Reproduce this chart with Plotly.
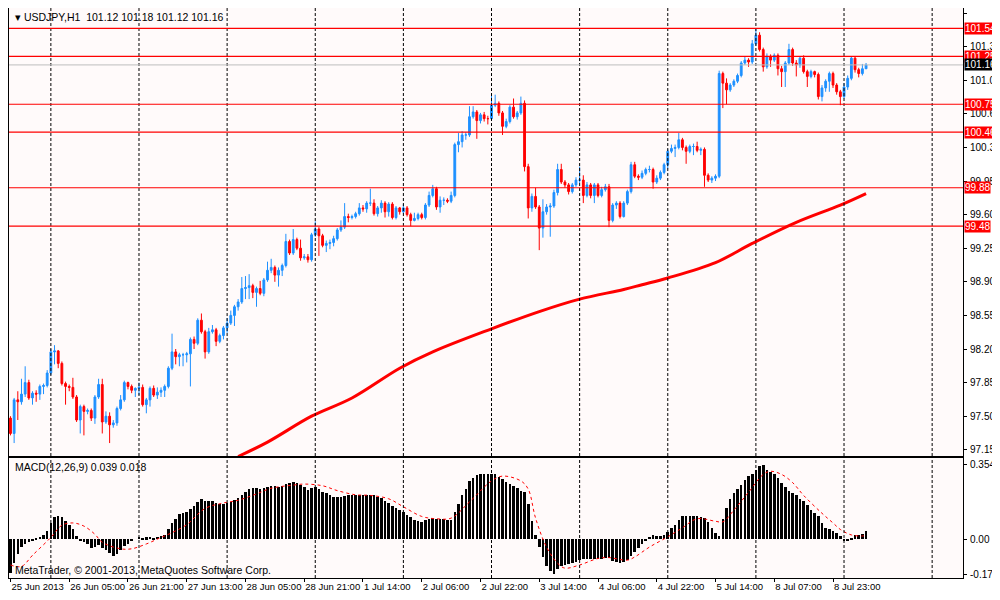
import plotly.graph_objects as go
from plotly.subplots import make_subplots

# USDJPY H1, 234 hourly bars (index 0 = 25 Jun 2013 13:00)
first_open = 97.48
closes = [
    97.32, 97.67, 97.65, 97.73, 97.85, 97.69, 97.74, 97.73, 97.81, 97.82,
    97.95, 98.17, 98.18, 98.05, 97.84, 97.81, 97.80, 97.70, 97.46, 97.60,
    97.55, 97.56, 97.48, 97.70, 97.83, 97.44, 97.50, 97.41, 97.43, 97.58,
    97.67, 97.85, 97.81, 97.77, 97.79, 97.80, 97.62, 97.67, 97.79, 97.72,
    97.75, 97.77, 97.81, 98.00, 98.17, 98.12, 98.14, 98.14, 98.15, 98.30,
    98.26, 98.50, 98.38, 98.17, 98.38, 98.40, 98.28, 98.34, 98.42, 98.47,
    98.55, 98.64, 98.69, 98.83, 98.84, 98.86, 98.79, 98.83, 98.78, 98.92,
    99.02, 99.05, 98.97, 99.02, 99.07, 99.32, 99.20, 99.34, 99.25, 99.15,
    99.16, 99.13, 99.39, 99.45, 99.38, 99.28, 99.30, 99.31, 99.35, 99.44,
    99.47, 99.58, 99.57, 99.58, 99.61, 99.67, 99.66, 99.72, 99.72, 99.61,
    99.67, 99.72, 99.63, 99.71, 99.57, 99.67, 99.63, 99.67, 99.60, 99.54,
    99.56, 99.60, 99.57, 99.70, 99.80, 99.87, 99.68, 99.75, 99.75, 99.74,
    99.80, 100.33, 100.36, 100.43, 100.43, 100.62, 100.67, 100.58, 100.64, 100.60,
    100.60, 100.74, 100.76, 100.66, 100.52, 100.57, 100.72, 100.62, 100.66, 100.76,
    100.10, 99.67, 99.79, 99.68, 99.46, 99.63, 99.68, 99.69, 99.83, 100.07,
    99.94, 99.91, 99.84, 99.91, 99.96, 99.96, 99.80, 99.91, 99.80, 99.91,
    99.80, 99.86, 99.89, 99.54, 99.70, 99.72, 99.58, 99.72, 99.84, 100.12,
    100.00, 99.99, 100.03, 100.07, 100.07, 99.94, 99.98, 100.04, 100.12, 100.26,
    100.29, 100.30, 100.38, 100.30, 100.26, 100.31, 100.31, 100.27, 100.28, 100.01,
    99.96, 99.98, 100.00, 101.07, 100.97, 100.90, 100.95, 100.99, 101.05, 101.18,
    101.21, 101.19, 101.38, 101.47, 101.32, 101.14, 101.25, 101.21, 101.26, 101.12,
    101.09, 101.18, 101.32, 101.18, 101.16, 101.23, 101.09, 101.04, 101.09, 101.06,
    100.83, 100.92, 100.99, 101.07, 100.95, 100.88, 100.83, 100.93, 101.02, 101.23,
    101.11, 101.07, 101.12, 101.16,
]
highs = [
    97.50, 97.69, 97.76, 97.89, 98.02, 97.88, 97.76, 97.77, 97.83, 97.84,
    97.98, 98.20, 98.24, 98.19, 98.07, 97.86, 97.83, 97.90, 97.72, 97.62,
    97.62, 97.58, 97.58, 97.72, 97.89, 97.89, 97.55, 97.54, 97.46, 97.60,
    97.72, 97.87, 97.86, 97.83, 97.80, 97.85, 97.83, 97.69, 97.81, 97.82,
    97.80, 97.80, 97.83, 98.02, 98.36, 98.20, 98.16, 98.16, 98.17, 98.32,
    98.33, 98.52, 98.57, 98.40, 98.42, 98.45, 98.42, 98.36, 98.44, 98.52,
    98.60, 98.66, 98.72, 98.95, 98.96, 98.98, 98.88, 98.85, 98.91, 98.94,
    99.11, 99.14, 99.07, 99.05, 99.09, 99.40, 99.34, 99.45, 99.36, 99.34,
    99.19, 99.19, 99.41, 99.53, 99.47, 99.40, 99.33, 99.34, 99.38, 99.46,
    99.54, 99.72, 99.61, 99.60, 99.63, 99.72, 99.70, 99.74, 99.87, 99.76,
    99.69, 99.75, 99.74, 99.73, 99.73, 99.69, 99.68, 99.71, 99.69, 99.62,
    99.62, 99.62, 99.62, 99.72, 99.84, 99.91, 99.89, 99.79, 99.78, 99.77,
    99.84, 100.35, 100.45, 100.47, 100.46, 100.73, 100.73, 100.69, 100.66, 100.67,
    100.63, 100.85, 100.85, 100.78, 100.68, 100.60, 100.74, 100.81, 100.68, 100.83,
    100.79, 100.13, 99.82, 99.88, 99.70, 99.76, 99.71, 99.72, 99.86, 100.13,
    100.13, 99.96, 99.93, 99.93, 99.99, 100.10, 100.01, 99.94, 99.93, 99.93,
    99.93, 99.89, 99.92, 99.92, 99.72, 99.74, 99.74, 99.74, 99.86, 100.15,
    100.15, 100.02, 100.06, 100.09, 100.11, 100.09, 100.01, 100.06, 100.14, 100.28,
    100.33, 100.33, 100.45, 100.40, 100.32, 100.33, 100.34, 100.36, 100.30, 100.30,
    100.03, 100.00, 100.02, 101.10, 101.09, 101.02, 100.97, 101.01, 101.07, 101.20,
    101.25, 101.23, 101.42, 101.54, 101.50, 101.34, 101.28, 101.27, 101.28, 101.28,
    101.15, 101.20, 101.38, 101.34, 101.21, 101.25, 101.26, 101.11, 101.11, 101.10,
    101.08, 100.95, 101.01, 101.09, 101.09, 100.97, 100.90, 100.97, 101.05, 101.25,
    101.25, 101.13, 101.17, 101.18,
]
lows = [
    97.30, 97.22, 97.46, 97.62, 97.70, 97.67, 97.62, 97.65, 97.67, 97.73,
    97.80, 97.93, 98.04, 98.00, 97.82, 97.62, 97.76, 97.68, 97.44, 97.32,
    97.30, 97.52, 97.45, 97.42, 97.68, 97.32, 97.42, 97.22, 97.38, 97.40,
    97.56, 97.65, 97.78, 97.74, 97.70, 97.72, 97.60, 97.53, 97.60, 97.70,
    97.68, 97.70, 97.70, 97.79, 97.98, 98.04, 98.02, 98.02, 98.06, 97.81,
    98.20, 98.24, 98.36, 98.10, 98.15, 98.36, 98.23, 98.26, 98.30, 98.37,
    98.45, 98.44, 98.60, 98.67, 98.72, 98.72, 98.73, 98.64, 98.76, 98.75,
    98.90, 98.99, 98.90, 98.85, 98.96, 99.05, 99.18, 99.18, 99.23, 99.12,
    99.13, 99.10, 99.11, 99.37, 99.17, 99.26, 99.21, 99.24, 99.27, 99.33,
    99.42, 99.45, 99.52, 99.55, 99.56, 99.59, 99.63, 99.62, 99.69, 99.59,
    99.58, 99.62, 99.57, 99.58, 99.55, 99.55, 99.60, 99.61, 99.58, 99.48,
    99.53, 99.54, 99.55, 99.55, 99.68, 99.78, 99.65, 99.62, 99.70, 99.72,
    99.72, 99.78, 100.25, 100.30, 100.38, 100.41, 100.60, 100.39, 100.55, 100.57,
    100.54, 100.58, 100.72, 100.63, 100.43, 100.50, 100.55, 100.60, 100.59, 100.64,
    100.05, 99.56, 99.63, 99.66, 99.23, 99.36, 99.60, 99.37, 99.67, 99.80,
    99.92, 99.88, 99.81, 99.82, 99.89, 99.93, 99.72, 99.78, 99.77, 99.72,
    99.78, 99.78, 99.84, 99.47, 99.52, 99.66, 99.56, 99.57, 99.70, 99.82,
    99.98, 99.96, 99.97, 100.01, 100.04, 99.87, 99.92, 99.96, 100.02, 100.08,
    100.24, 100.20, 100.28, 100.27, 100.13, 100.24, 100.22, 100.25, 100.22, 99.89,
    99.94, 99.93, 99.95, 99.98, 100.71, 100.75, 100.88, 100.93, 100.97, 101.03,
    101.16, 101.14, 101.17, 101.36, 101.30, 101.09, 101.12, 101.14, 101.19, 101.05,
    100.93, 100.93, 101.16, 101.15, 101.04, 101.13, 101.07, 100.93, 101.02, 101.03,
    100.80, 100.78, 100.88, 100.88, 100.92, 100.85, 100.74, 100.81, 100.90, 101.00,
    101.08, 101.03, 101.05, 101.12,
]
opens = [first_open] + closes[:-1]

# 200-period moving average
ma_bar = [62, 70, 82, 93, 106, 115, 131, 144, 155, 167, 172, 179, 192, 202, 214, 226, 233]
ma_val = [97.08, 97.23, 97.50, 97.69, 98.00, 98.17, 98.41, 98.59, 98.72, 98.82,
          98.87, 98.94, 99.10, 99.30, 99.52, 99.70, 99.82]

# horizontal levels
levels = [101.54, 101.25, 100.75, 100.46, 99.88, 99.48]
current_price = 101.16

# MACD(12,26,9) histogram
macd = [
    -0.162, -0.115, -0.069, -0.038, -0.023, -0.012, -0.008, 0.005, 0.011, 0.020,
    0.038, 0.077, 0.105, 0.112, 0.103, 0.085, 0.069, 0.046, 0.015, -0.005,
    -0.015, -0.023, -0.043, -0.038, -0.026, -0.043, -0.054, -0.066, -0.082, -0.069,
    -0.054, -0.035, -0.023, -0.011, 0.000, 0.011, 0.005, 0.008, 0.011, 0.005,
    0.011, 0.015, 0.020, 0.046, 0.077, 0.097, 0.118, 0.123, 0.131, 0.143,
    0.158, 0.177, 0.189, 0.180, 0.182, 0.182, 0.174, 0.165, 0.169, 0.174,
    0.177, 0.185, 0.195, 0.211, 0.226, 0.238, 0.242, 0.242, 0.238, 0.242,
    0.246, 0.254, 0.251, 0.246, 0.251, 0.262, 0.269, 0.272, 0.266, 0.257,
    0.246, 0.235, 0.242, 0.246, 0.238, 0.226, 0.220, 0.208, 0.200, 0.200,
    0.200, 0.205, 0.208, 0.208, 0.211, 0.211, 0.211, 0.211, 0.211, 0.208,
    0.200, 0.195, 0.180, 0.174, 0.158, 0.149, 0.138, 0.131, 0.115, 0.103,
    0.092, 0.085, 0.082, 0.092, 0.097, 0.100, 0.097, 0.097, 0.097, 0.092,
    0.092, 0.131, 0.165, 0.208, 0.238, 0.277, 0.292, 0.303, 0.308, 0.312,
    0.308, 0.312, 0.308, 0.297, 0.285, 0.274, 0.262, 0.251, 0.242, 0.231,
    0.223, 0.169, 0.085, 0.020, -0.038, -0.085, -0.128, -0.154, -0.165, -0.143,
    -0.128, -0.123, -0.118, -0.115, -0.108, -0.100, -0.097, -0.094, -0.094, -0.094,
    -0.094, -0.094, -0.088, -0.092, -0.103, -0.108, -0.112, -0.108, -0.100, -0.082,
    -0.062, -0.042, -0.023, -0.008, 0.011, 0.020, 0.015, 0.015, 0.020, 0.035,
    0.054, 0.069, 0.092, 0.108, 0.108, 0.108, 0.112, 0.112, 0.103, 0.100,
    0.082, 0.051, 0.031, 0.015, 0.097, 0.149, 0.192, 0.220, 0.238, 0.257,
    0.282, 0.300, 0.312, 0.331, 0.349, 0.354, 0.328, 0.318, 0.308, 0.292,
    0.269, 0.246, 0.231, 0.220, 0.208, 0.192, 0.180, 0.162, 0.138, 0.123,
    0.108, 0.077, 0.054, 0.046, 0.038, 0.031, 0.015, -0.005, -0.008, 0.002,
    0.020, 0.020, 0.026, 0.039,
]
# signal line, read at points along the dotted curve
sig_bar = [0, 3, 6, 11, 14, 17, 20, 23, 25, 30, 33, 37, 41, 44, 48, 53, 58, 62, 67, 71,
           77, 80, 85, 89, 94, 98, 103, 107, 112, 116, 120, 125, 131, 134, 139, 141, 143,
           146, 149, 151, 155, 160, 163, 168, 170, 174, 179, 183, 187, 192, 194, 197, 201,
           205, 207, 210, 213, 216, 221, 224, 226, 229, 232, 233]
sig_val = [-0.123, -0.130, -0.077, 0.008, 0.066, 0.077, 0.062, 0.023, -0.015, -0.046,
           -0.046, -0.023, 0.008, 0.031, 0.069, 0.146, 0.172, 0.185, 0.215, 0.242,
           0.257, 0.262, 0.254, 0.231, 0.211, 0.208, 0.192, 0.154, 0.108, 0.097,
           0.100, 0.177, 0.277, 0.300, 0.277, 0.238, 0.100, -0.038, -0.115, -0.138,
           -0.123, -0.092, -0.088, -0.100, -0.085, -0.038, 0.011, 0.054, 0.097, 0.085,
           0.082, 0.138, 0.223, 0.308, 0.323, 0.308, 0.269, 0.208, 0.123, 0.077,
           0.046, 0.020, 0.015, 0.018]

time_labels = ["25 Jun 2013", "26 Jun 05:00", "26 Jun 21:00", "27 Jun 13:00", "28 Jun 05:00",
               "28 Jun 21:00", "1 Jul 14:00", "2 Jul 06:00", "2 Jul 22:00", "3 Jul 14:00",
               "4 Jul 06:00", "4 Jul 22:00", "5 Jul 14:00", "8 Jul 07:00", "8 Jul 23:00"]
label_step = 16
grid_start, grid_step = 11, 24

price_ticks = [97.15, 97.50, 97.85, 98.20, 98.55, 98.90, 99.25, 99.60, 99.95,
               100.30, 100.65, 101.00, 101.35, 101.70]

FONT = "Liberation Sans"
FS = 10
bars = list(range(len(closes)))
xr = [-0.4, 259.4]

fig = make_subplots(rows=2, cols=1, shared_xaxes=True, vertical_spacing=0.005)

fig.add_trace(go.Candlestick(
    x=bars, open=opens, high=highs, low=lows, close=closes,
    increasing=dict(line=dict(color="#1E90FF", width=1), fillcolor="#1E90FF"),
    decreasing=dict(line=dict(color="#FF0000", width=1), fillcolor="#FF0000"),
    whiskerwidth=0, showlegend=False, hoverinfo="skip"), row=1, col=1)

fig.add_trace(go.Scatter(x=ma_bar, y=ma_val, mode="lines", line_shape="spline",
                         line=dict(color="#FF0000", width=3), showlegend=False), row=1, col=1)

fig.add_trace(go.Bar(x=bars, y=macd, marker_color="black", marker_line_width=0,
                     width=0.7, showlegend=False), row=2, col=1)
fig.add_trace(go.Scatter(x=sig_bar, y=sig_val, mode="lines", line_shape="spline",
                         line=dict(color="#FF0000", width=1, dash="dot"),
                         showlegend=False), row=2, col=1)

# vertical dashed grid
for gx in range(grid_start, int(xr[1]), grid_step):
    fig.add_vline(x=gx, line=dict(color="black", width=1, dash="3px,2px"))

for lv in levels:
    fig.add_hline(y=lv, line=dict(color="#FF0000", width=1.2), row=1, col=1)
    fig.add_annotation(xref="paper", yref="y", x=1, y=lv, text=f"{lv:.2f}",
                       xanchor="left", xshift=1, showarrow=False, bgcolor="#FF0000",
                       borderpad=0, font=dict(family=FONT, size=FS, color="white"))
fig.add_hline(y=current_price, line=dict(color="#BEBEBE", width=1), row=1, col=1)
fig.add_annotation(xref="paper", yref="y", x=1, y=current_price, text=f"{current_price:.2f}",
                   xanchor="left", xshift=1, showarrow=False, bgcolor="black",
                   borderpad=0, font=dict(family=FONT, size=FS, color="white"))

fig.add_annotation(xref="paper", yref="paper", x=0.004, y=0.999, xanchor="left", yanchor="top",
                   text="▾ USDJPY,H1  101.12 101.18 101.12 101.16", showarrow=False,
                   font=dict(family=FONT, size=10.5, color="black"))
fig.add_annotation(xref="paper", yref="paper", x=0.004, y=0.208, xanchor="left", yanchor="top",
                   text="MACD(12,26,9) 0.039 0.018", showarrow=False,
                   font=dict(family=FONT, size=10.5, color="black"))
fig.add_annotation(xref="paper", yref="paper", x=0.004, y=0.0, xanchor="left", yanchor="bottom",
                   text="MetaTrader, © 2001-2013, MetaQuotes Software Corp.", showarrow=False,
                   font=dict(family=FONT, size=10.5, color="black"))

axis_common = dict(showline=True, linecolor="black", linewidth=1, mirror=True,
                   showgrid=False, zeroline=False, automargin=False)

# the page puts the plot 8px in from the top-left corner, so the figure is kept smaller
fig.update_layout(
    width=992, height=584,
    margin=dict(l=1, r=37, t=0, b=14),
    paper_bgcolor="white", plot_bgcolor="#FFFAFA",
    font=dict(family=FONT, size=FS, color="black"),
    bargap=0,
    xaxis=dict(range=xr, showticklabels=False, rangeslider=dict(visible=False), **axis_common),
    xaxis2=dict(range=xr, tickvals=[i * label_step for i in range(len(time_labels))],
                ticktext=time_labels, ticks="outside", ticklen=3, tickcolor="black",
                tickangle=0, ticklabelposition="outside right", ticklabelstandoff=0,
                tickfont=dict(size=9.5), **axis_common),
    yaxis=dict(domain=[0.214, 1], range=[97.085, 101.753], side="right",
               tickvals=price_ticks, ticktext=[f"{p:.2f}" for p in price_ticks],
               ticks="outside", ticklen=3, tickcolor="black", ticklabelstandoff=1,
               tickfont=dict(size=FS), **axis_common),
    yaxis2=dict(domain=[0, 0.2105], range=[-0.185, 0.386], side="right",
                tickvals=[0.354, 0, -0.17], ticktext=["0.354", "0.00", "-0.17"],
                ticks="outside", ticklen=3, tickcolor="black", ticklabelstandoff=1,
                tickfont=dict(size=FS), **axis_common),
)

fig.write_html("out.html")
